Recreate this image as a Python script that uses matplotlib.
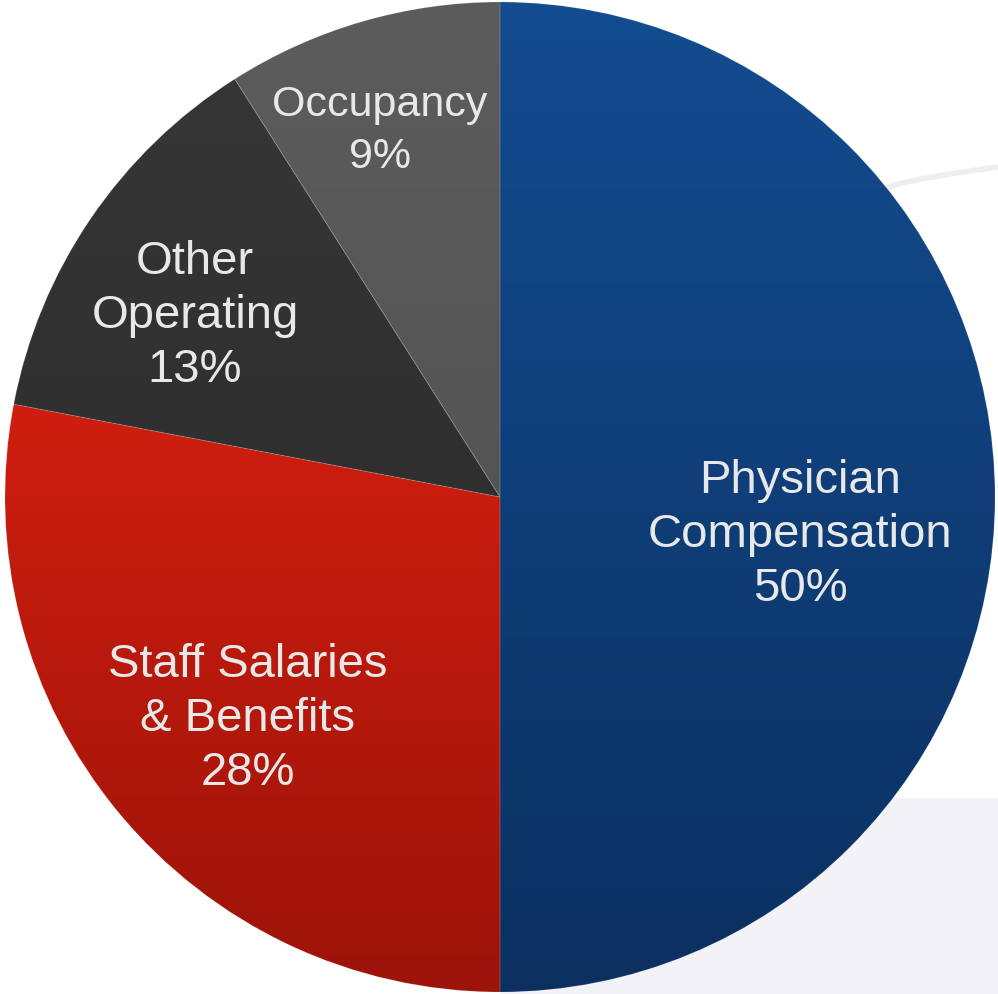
import numpy as np
import matplotlib
matplotlib.use("Agg")
import matplotlib.pyplot as plt
from matplotlib.colors import LinearSegmentedColormap

labels = ["Physician\nCompensation\n50%", "Staff Salaries\n& Benefits\n28%",
          "Other\nOperating\n13%", "Occupancy\n9%"]
shares = [50, 28, 13, 9]
# (top colour, bottom colour) of each slice's gradient
grads = [("#134c90", "#0b3060"), ("#cf1e0f", "#9c1309"),
         ("#363636", "#2f2f2f"), ("#5c5c5c", "#545454")]
# label centres in pixels (x, y from top), font sizes
label_pos = [(800, 535), (248, 719), (195, 316), (380, 131)]
label_size = [34, 34, 34, 31]
label_spacing = [1.28, 1.28, 1.28, 1.36]

W, H = 998, 994
fig = plt.figure(figsize=(W / 100, H / 100), dpi=100)
ax = fig.add_axes([0, 0, 1, 1])

# faint background shapes
ax.add_patch(plt.Rectangle((500, 0), 498, 196, color="#f2f2f7", zorder=0, lw=0))
t = np.linspace(0, 1, 50)
ax.plot(885 + 113 * t, 805 + 22 * t ** 0.7, color="#e8e8e8", lw=4, alpha=0.7,
        zorder=0, solid_capstyle="round")

cx, cy, r = 500, H - 497, 495
wedges, _ = ax.pie(shares, startangle=90, counterclock=False, radius=r,
                   center=(cx, cy), frame=True,
                   wedgeprops=dict(facecolor="none", edgecolor=(1, 1, 1, 0.1), lw=0.8))

for w, (c0, c1) in zip(wedges, grads):
    ext = w.get_path().get_extents()
    cmap = LinearSegmentedColormap.from_list("g", [c1, c0])
    grad = np.linspace(0, 1, 256).reshape(-1, 1)
    im = ax.imshow(grad, cmap=cmap, origin="lower", aspect="auto",
                   extent=[ext.x0, ext.x1, ext.y0, ext.y1], zorder=1)
    im.set_clip_path(w)
    w.set_zorder(2)

for lab, (x, y), fs, ls in zip(labels, label_pos, label_size, label_spacing):
    ax.text(x, H - y, lab, ha="center", va="center", color="#e8e8e8",
            fontsize=fs, family="Liberation Sans", linespacing=ls, zorder=3)

ax.set_xlim(0, W)
ax.set_ylim(0, H)
ax.set_aspect("auto")
ax.axis("off")
fig.savefig("out.png", dpi=100)
